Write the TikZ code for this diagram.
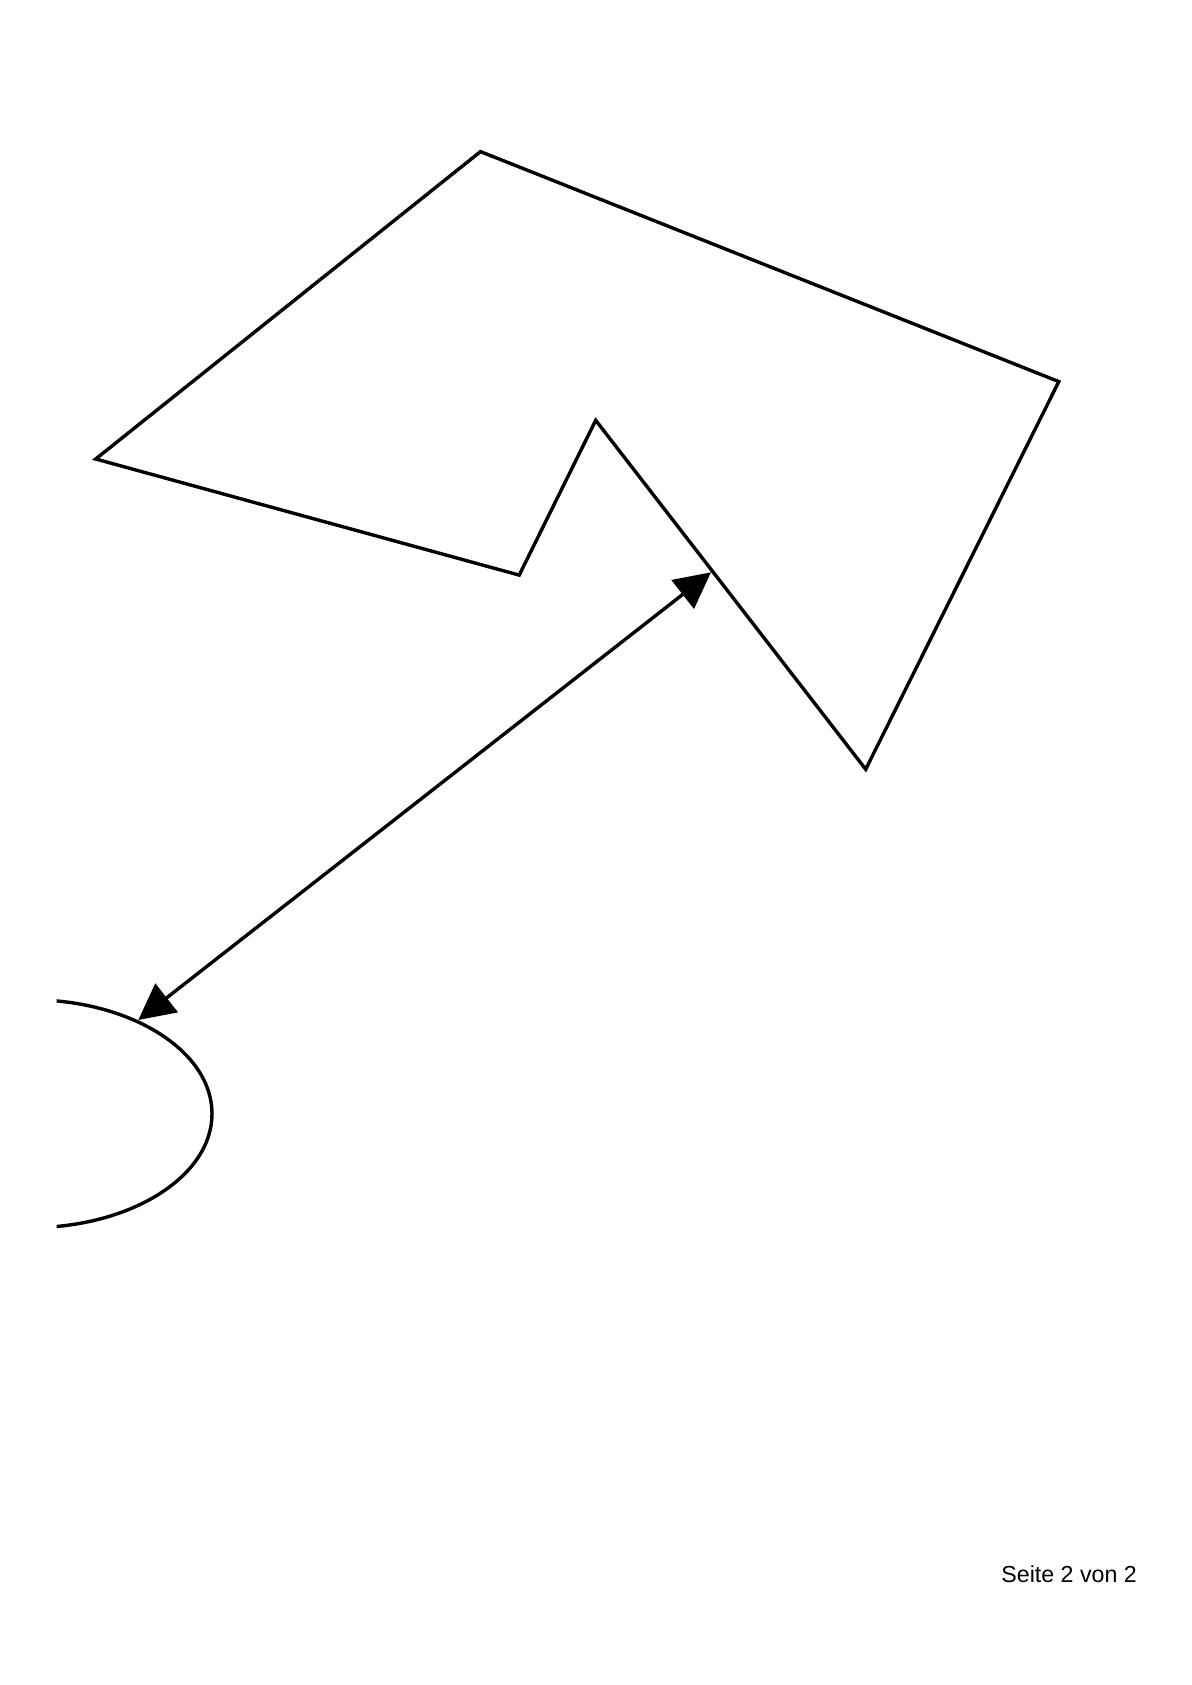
\documentclass[tikz,border=0pt]{standalone}
\usepackage{fontspec}
\setmainfont{Liberation Sans}
\usetikzlibrary{arrows.meta}
\begin{document}
\begin{tikzpicture}[x=0.5pt,y=-0.5pt,
  outline/.style={draw=black,line width=1.7pt,line join=miter},
  link/.style={draw=black,line width=1.7pt,{Triangle[length=18pt,width=18pt]}-{Triangle[length=18pt,width=18pt]}},
  pagelabel/.style={font=\fontsize{11.6}{13}\selectfont,anchor=base west,inner sep=0pt}]
\useasboundingbox[fill=white] (0,0) rectangle (1192,1685);
% polygon
\draw[outline] (480.5,151.6) -- (1058.8,381.6) -- (865.7,769.3) -- (595.7,420.3) -- (519.2,575.1) -- (95.7,459.0) -- cycle;
% partial ellipse
\begin{scope}
\clip (56.7,0) rectangle (1192,1685);
\draw[outline] (30,1113.7) ellipse [x radius=91pt, y radius=57pt];
\end{scope}
% connector
\coordinate (polyend) at (711,572.3);
\coordinate (ellend) at (138.3,1020);
\draw[link] (ellend) -- (polyend);
% page label
\node[pagelabel] (pg) at (1001,1582.7) {Seite 2 von 2};
\end{tikzpicture}
\end{document}
